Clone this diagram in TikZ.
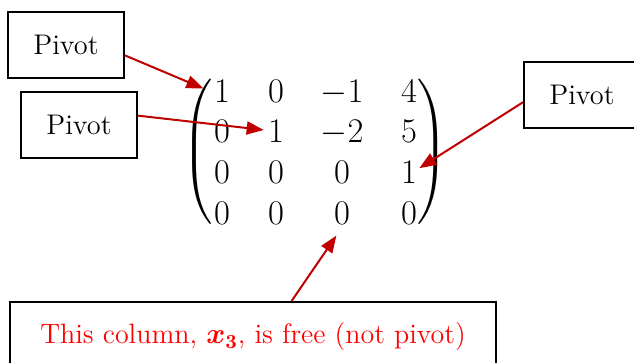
\documentclass[tikz,border=0pt]{standalone}
\usepackage{amsmath}
\usepackage{bm}
\usetikzlibrary{arrows.meta}
\definecolor{arrowred}{RGB}{192,0,0}
\definecolor{textred}{RGB}{255,0,0}
\begin{document}
\begin{tikzpicture}[x=0.5pt,y=-0.5pt,
  pivbox/.style={draw=black,line width=1pt,minimum width=58pt,minimum height=33pt,inner sep=0pt,font=\fontsize{14.2}{17}\selectfont},
  entry/.style={inner sep=1pt,text height=11pt,text depth=0pt,font=\fontsize{17}{20}\selectfont},
  delim/.style={inner sep=0pt,font=\fontsize{17}{20}\selectfont},
  redarrow/.style={draw=arrowred,line width=1pt,-{Triangle[length=8.5pt,width=6.5pt]}}]
\useasboundingbox (0,0) rectangle (634,363);
\begin{scope}
\clip (0,0) rectangle (634,363);
% boxes
\node[pivbox] (b1) at (66,45) {Pivot};
\node[pivbox] (b2) at (79,125) {Pivot};
\node[pivbox] (b3) at (582,95) {Pivot};
\node[draw=black,line width=1pt,minimum width=243pt,minimum height=35pt,inner sep=0pt,
  font=\fontsize{14}{17}\selectfont,text=textred] (b4) at (253,337)
  {This column, $\bm{x}_{\bm{3}}$, is free (not pivot)};
% matrix entries
\node[entry] (m11) at (222,92) {$1$};
\node[entry] (m12) at (276,92) {$0$};
\node[entry] (m13) at (342,92) {$-1$};
\node[entry] (m14) at (409,92) {$4$};
\node[entry] (m21) at (222,132) {$0$};
\node[entry] (m22) at (276,132) {$1$};
\node[entry] (m23) at (342,132) {$-2$};
\node[entry] (m24) at (409,132) {$5$};
\node[entry] (m31) at (222,173) {$0$};
\node[entry] (m32) at (276,173) {$0$};
\node[entry] (m33) at (342,173) {$0$};
\node[entry] (m34) at (409,173) {$1$};
\node[entry] (m41) at (222,214) {$0$};
\node[entry] (m42) at (276,214) {$0$};
\node[entry] (m43) at (342,214) {$0$};
\node[entry] (m44) at (409,214) {$0$};
\node[delim] (lp) at (198,153) {$\nulldelimiterspace=0pt\left(\vrule height 33pt depth 33pt width 0pt\right.$};
\node[delim] (rp) at (433,153) {$\nulldelimiterspace=0pt\left.\vrule height 33pt depth 33pt width 0pt\right)$};
% arrows
\draw[redarrow,shorten >=4.5pt] (b1.-10) -- (m11.west);
\draw[redarrow,shorten >=1pt] (b2.9) -- (m22.170);
\draw[redarrow] (b3.187) -- (m34.25);
\draw[redarrow,shorten >=5pt] (b4.43) -- (m43.south);
\end{scope}
\end{tikzpicture}
\end{document}
